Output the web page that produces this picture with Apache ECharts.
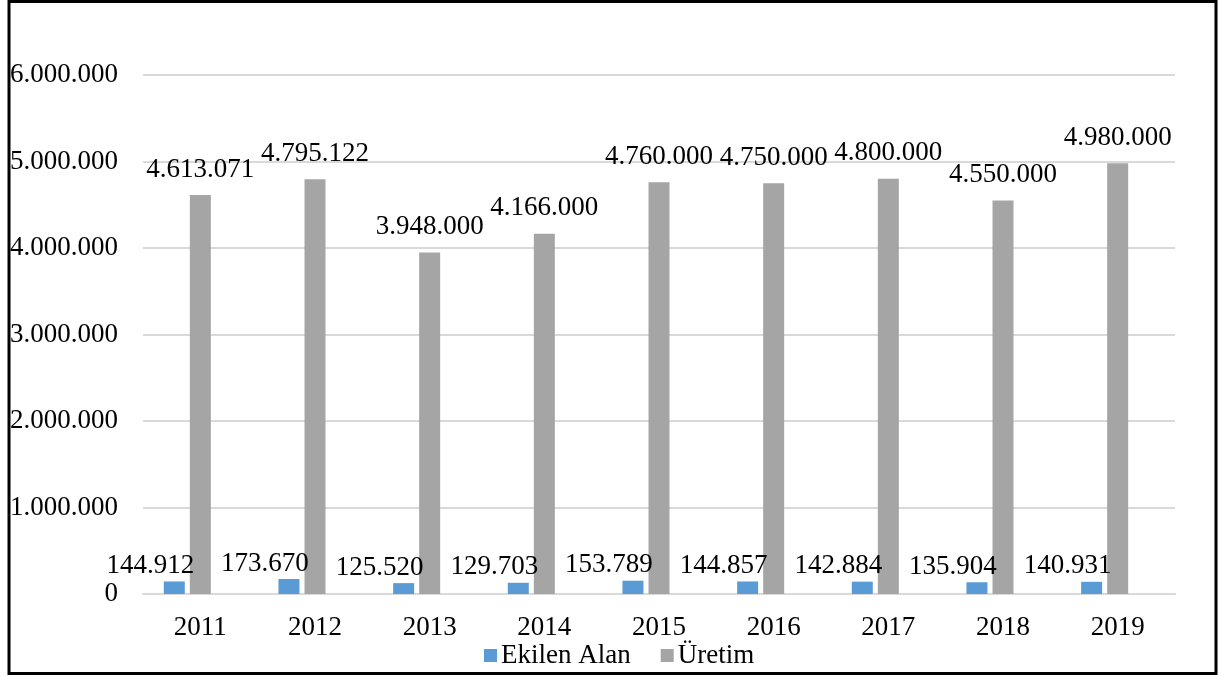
<!DOCTYPE html>
<html>
<head>
<meta charset="utf-8">
<script src="https://cdn.jsdelivr.net/npm/echarts@6/dist/echarts.min.js"></script>
<style>
html,body{margin:0;padding:0;background:#fff;}
#chart{width:1219px;height:677px;}
</style>
</head>
<body>
<div id="chart"></div>
<script>
const years = ['2011','2012','2013','2014','2015','2016','2017','2018','2019'];
const ekilenAlan = [144912,173670,125520,129703,153789,144857,142884,135904,140931];
const uretim = [4613071,4795122,3948000,4166000,4760000,4750000,4800000,4550000,4980000];
const emptySeries = [null,null,null,null,null,null,null,null,null];
const yTicks = {min:0, max:6000000, interval:1000000};

function fmt(v){
  return String(Math.round(v)).replace(/\B(?=(\d{3})+(?!\d))/g,'.');
}
const FONT = '"Liberation Serif","Times New Roman",serif';
const FS = 27;

const chart = echarts.init(document.getElementById('chart'));
chart.setOption({
  animation:false,
  backgroundColor:'#fff',
  textStyle:{fontFamily:FONT},
  graphic:[{
    type:'rect',
    shape:{x:9,y:1.5,width:1207,height:672},
    style:{fill:'none',stroke:'#000',lineWidth:3},
    silent:true
  }],
  grid:{left:143,right:44,top:75,bottom:83,containLabel:false},
  legend:{
    data:['Ekilen Alan','Üretim'],
    left:479, top:637,
    itemWidth:13, itemHeight:13, itemGap:30,
    icon:'rect',
    textStyle:{fontFamily:FONT,fontSize:FS,color:'#000',padding:[0,0,0,-1]}
  },
  xAxis:{
    type:'category',
    data:years,
    axisLine:{lineStyle:{color:'#d9d9d9',width:2}},
    axisTick:{show:false},
    axisLabel:{fontFamily:FONT,fontSize:FS,color:'#000',margin:20}
  },
  yAxis:{
    type:'value',
    min:yTicks.min, max:yTicks.max, interval:yTicks.interval,
    axisLine:{show:false},
    axisTick:{show:false},
    splitLine:{lineStyle:{color:'#d9d9d9',width:2}},
    axisLabel:{fontFamily:FONT,fontSize:FS,color:'#000',margin:25,formatter:fmt}
  },
  series:[
    {
      name:'Ekilen Alan', type:'bar', data:ekilenAlan,
      barWidth:21, barGap:'24%',
      itemStyle:{color:'#5b9bd5'},
      label:{show:true,position:'top',distance:2,offset:[-24,0],
        fontFamily:FONT,fontSize:FS,color:'#000',formatter:p=>fmt(p.value)}
    },
    {
      name:'Üretim', type:'bar', data:uretim,
      barWidth:21, barGap:'24%',
      itemStyle:{color:'#a5a5a5'},
      label:{show:true,position:'top',distance:12,
        fontFamily:FONT,fontSize:FS,color:'#000',formatter:p=>fmt(p.value)}
    },
    {
      name:'', type:'bar', data:emptySeries,
      barWidth:21, barGap:'24%',
      itemStyle:{color:'#ed7d31'}
    }
  ]
});
</script>
</body>
</html>
